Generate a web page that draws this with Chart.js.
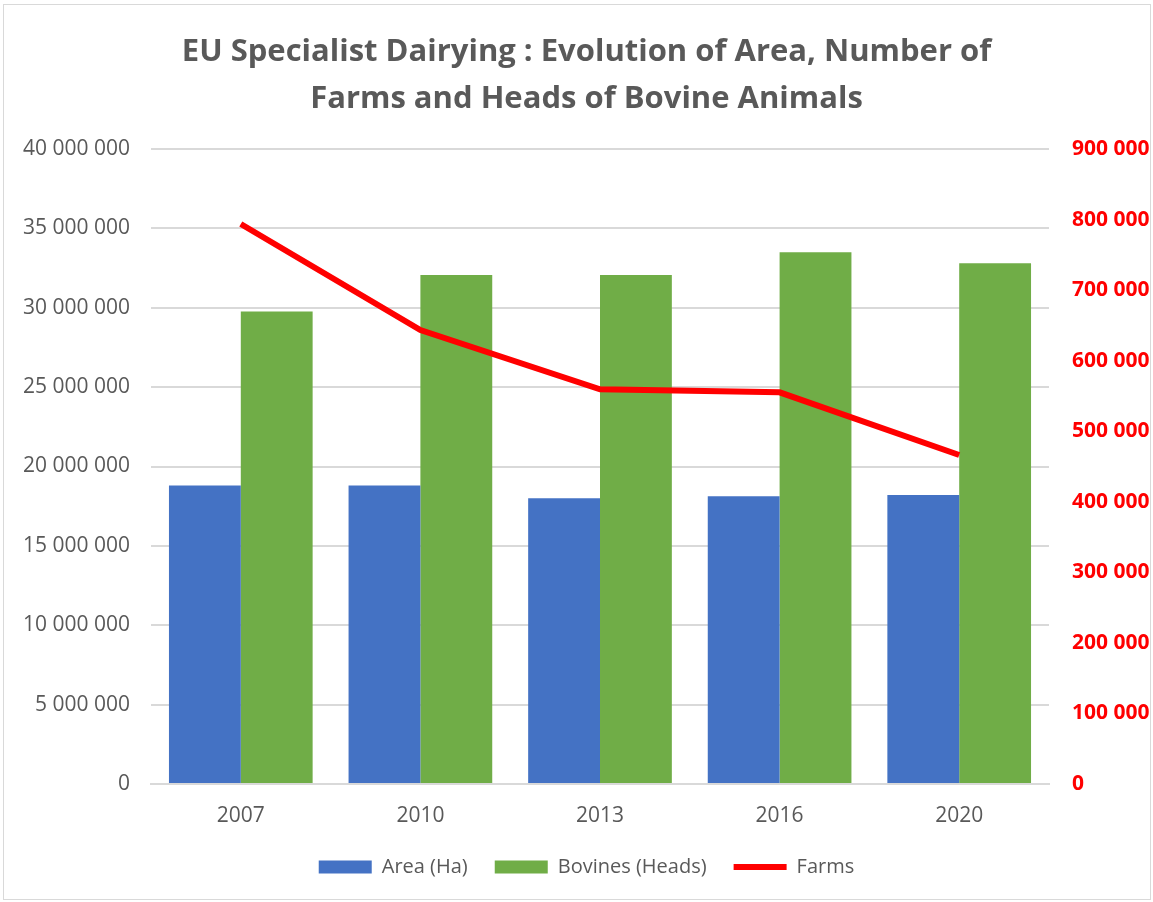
<!DOCTYPE html>
<html>
<head>
<meta charset="utf-8">
<script src="https://cdn.jsdelivr.net/npm/chart.js@4"></script>
<style>
  html, body { margin: 0; padding: 0; background: #fff; }
  #wrap { position: absolute; left: 3px; top: 4px; width: 1148px; height: 896px; border: 1px solid #d9d9d9; box-sizing: border-box; }
  #box { position: absolute; left: 0; top: 0; width: 1153px; height: 902px; }
</style>
</head>
<body>
<div id="wrap"></div>
<div id="box"><canvas id="dairyChart"></canvas></div>
<script>
const years = ["2007", "2010", "2013", "2016", "2020"];
const areaHa = [18800000, 18800000, 18000000, 18130000, 18210000];
const bovineHeads = [29760000, 32070000, 32070000, 33500000, 32800000];
const farms = [793700, 643400, 559400, 555100, 466300];

const grey = "#595959";
const fmt = v => String(Math.round(v)).replace(/\B(?=(\d{3})+(?!\d))/g, " ");

new Chart(document.getElementById("dairyChart"), {
  data: {
    labels: years,
    datasets: [
      {
        type: "line",
        label: "Farms",
        data: farms,
        yAxisID: "yFarms",
        borderColor: "#ff0000",
        backgroundColor: "#ff0000",
        borderWidth: 6,
        pointRadius: 0,
        pointStyle: "line",
        tension: 0,
        order: 0,
      },
      {
        type: "bar",
        label: "Area (Ha)",
        data: areaHa,
        yAxisID: "y",
        backgroundColor: "#4472c4",
        borderWidth: 0,
        pointStyle: "rect",
        order: 1,
      },
      {
        type: "bar",
        label: "Bovines (Heads)",
        data: bovineHeads,
        yAxisID: "y",
        backgroundColor: "#70ad47",
        borderWidth: 0,
        pointStyle: "rect",
        order: 1,
      },
    ],
  },
  options: {
    responsive: true,
    maintainAspectRatio: false,
    animation: false,
    datasets: { bar: { categoryPercentage: 0.8, barPercentage: 1 } },
    layout: { padding: { left: 20, right: 0, top: 14, bottom: 15 } },
    plugins: {
      title: {
        display: true,
        text: ["EU Specialist Dairying : Evolution of Area, Number of", "Farms and Heads of Bovine Animals"],
        color: grey,
        font: { family: "Open Sans", size: 31, weight: "bold", lineHeight: 1.5 },
        padding: { top: 15, bottom: 27 },
      },
      legend: {
        position: "bottom",
        labels: {
          sort: (a, b) => (a.text === "Farms") - (b.text === "Farms"),
          usePointStyle: true,
          pointStyleWidth: 53,
          boxHeight: 13,
          color: grey,
          font: { family: "Open Sans", size: 20 },
          padding: 27,
        },
      },
      tooltip: { enabled: false },
    },
    scales: {
      x: {
        grid: { display: false },
        border: { color: "#d9d9d9", width: 2 },
        ticks: { color: grey, font: { family: "Open Sans", size: 21 }, padding: 11 },
        afterFit: s => { s.height = 46; },
      },
      y: {
        position: "left",
        min: 0,
        max: 40000000,
        ticks: { stepSize: 5000000, color: grey, font: { family: "Open Sans", size: 21 }, padding: 21, callback: fmt },
        grid: { color: "#d9d9d9", lineWidth: 2, drawTicks: false },
        border: { display: false },
        afterFit: s => { s.width = 131; },
      },
      yFarms: {
        position: "right",
        min: 0,
        max: 900000,
        ticks: { stepSize: 100000, color: "#ff0000", font: { family: "Open Sans", size: 21, weight: "bold" }, padding: 23, callback: fmt },
        grid: { display: false, drawTicks: false },
        border: { display: false },
        afterFit: s => { s.width = 104; },
      },
    },
  },
});
</script>
</body>
</html>
